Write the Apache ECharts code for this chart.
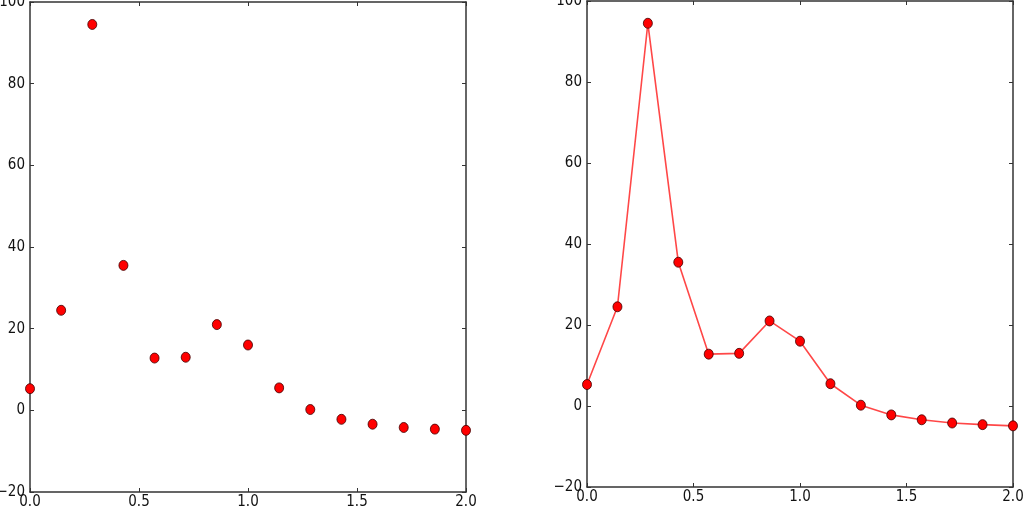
<!DOCTYPE html>
<html><head><meta charset="utf-8">
<script src="https://cdn.jsdelivr.net/npm/echarts@6/dist/echarts.min.js"></script>
<style>html,body{margin:0;padding:0;background:#fff}#c{width:1024px;height:512px}</style>
</head><body><div id="c"></div>
<script>
const xValues = [0, 0.1429, 0.2857, 0.4286, 0.5714, 0.7143, 0.8571, 1.0, 1.1429, 1.2857, 1.4286, 1.5714, 1.7143, 1.8571, 2.0];
const yValues = [5.3, 24.5, 94.5, 35.5, 12.8, 13.0, 21.0, 16.0, 5.5, 0.2, -2.2, -3.4, -4.2, -4.6, -4.9];
const xTicks = [0, 0.5, 1.0, 1.5, 2.0];
const yTicks = [-20, 0, 20, 40, 60, 80, 100];

const pts = xValues.map((x, i) => [x, yValues[i]]);
const font = '"Liberation Sans Narrow", "DejaVu Sans Condensed", sans-serif';
const axisColor = '#333';

function xAx(gi, pos, labels) {
  return {
    type: 'value', gridIndex: gi, position: pos, min: xTicks[0], max: xTicks[xTicks.length - 1], interval: 0.5,
    axisLine: {show: true, onZero: false, lineStyle: {color: axisColor, width: 1.5}},
    axisTick: {show: true, inside: true, length: 4, lineStyle: {color: axisColor}},
    axisLabel: {show: labels, color: '#111', fontSize: 15, fontFamily: font, margin: 3,
      formatter: v => v.toFixed(1)},
    splitLine: {show: false}
  };
}
function yAx(gi, pos, labels) {
  return {
    type: 'value', gridIndex: gi, position: pos, min: yTicks[0], max: yTicks[yTicks.length - 1], interval: 20,
    axisLine: {show: true, onZero: false, lineStyle: {color: axisColor, width: 1.5}},
    axisTick: {show: true, inside: true, length: 4, lineStyle: {color: axisColor}},
    axisLabel: {show: labels, color: '#111', fontSize: 15, fontFamily: font, margin: 5,
      formatter: v => String(v).replace('-', '\u2212')},
    splitLine: {show: false}
  };
}

const marker = {color: '#ff0000', borderColor: '#400000', borderWidth: 0.8, opacity: 1};

const option = {
  animation: false,
  backgroundColor: '#fff',
  grid: [
    {left: 30, right: 558, top: 2, bottom: 20, outerBoundsMode: 'none', containLabel: false},
    {left: 587, right: 11, top: 1, bottom: 25, outerBoundsMode: 'none', containLabel: false}
  ],
  xAxis: [xAx(0, 'bottom', true), xAx(0, 'top', false), xAx(1, 'bottom', true), xAx(1, 'top', false)],
  yAxis: [yAx(0, 'left', true), yAx(0, 'right', false), yAx(1, 'left', true), yAx(1, 'right', false)],
  series: [
    {type: 'scatter', xAxisIndex: 0, yAxisIndex: 0, data: pts, symbol: 'circle',
      symbolSize: [9, 10], itemStyle: marker, z: 5},
    {type: 'line', xAxisIndex: 2, yAxisIndex: 2, data: pts, symbol: 'circle',
      symbolSize: [9, 10], showSymbol: true, itemStyle: marker,
      lineStyle: {color: '#ff3333', width: 1.6, opacity: 0.9}, z: 5}
  ]
};
const chart = echarts.init(document.getElementById('c'), null, {renderer: 'canvas'});
chart.setOption(option);
</script></body></html>
